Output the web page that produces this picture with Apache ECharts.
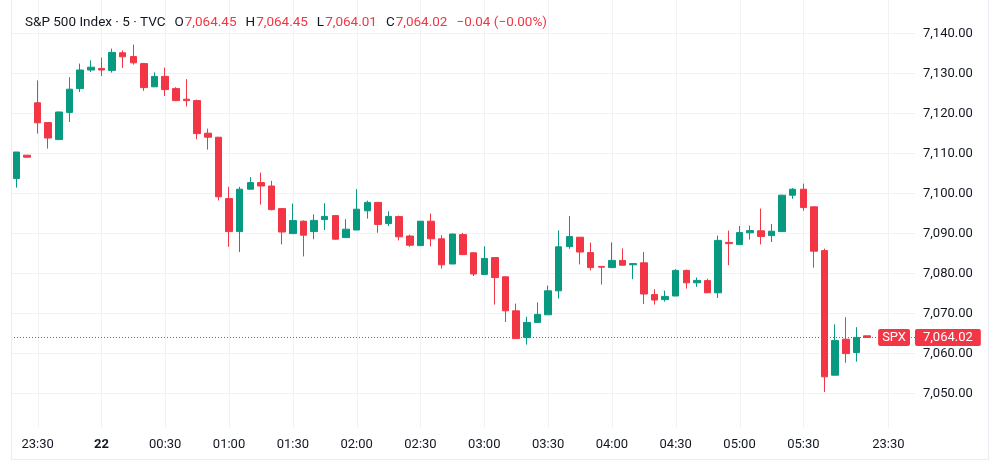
<!DOCTYPE html>
<html>
<head>
<meta charset="utf-8">
<script src="https://cdn.jsdelivr.net/npm/echarts@6/dist/echarts.min.js"></script>
<style>
  html, body { margin: 0; height: 100%; background: #fff; }
  #container { position: absolute; left: 0; top: 0; width: 1000px; height: 464px; }
  #frame { position: absolute; left: 11px; top: -1px; width: 976px; height: 459px; border: 1px solid #e9ecf2; pointer-events: none; }
</style>
</head>
<body>
<div id="container"></div>
<div id="frame"></div>
<script type="text/javascript">
  // 5 minute bars, last 4 slots are empty future space
  var times = [
    '23:20', '23:25', '23:30', '23:35', '23:40', '23:45', '23:50', '23:55',
    '00:00', '00:05', '00:10', '00:15', '00:20', '00:25', '00:30', '00:35', '00:40', '00:45', '00:50', '00:55',
    '01:00', '01:05', '01:10', '01:15', '01:20', '01:25', '01:30', '01:35', '01:40', '01:45', '01:50', '01:55',
    '02:00', '02:05', '02:10', '02:15', '02:20', '02:25', '02:30', '02:35', '02:40', '02:45', '02:50', '02:55',
    '03:00', '03:05', '03:10', '03:15', '03:20', '03:25', '03:30', '03:35', '03:40', '03:45', '03:50', '03:55',
    '04:00', '04:05', '04:10', '04:15', '04:20', '04:25', '04:30', '04:35', '04:40', '04:45', '04:50', '04:55',
    '05:00', '05:05', '05:10', '05:15', '05:20', '05:25', '05:30', '05:35', '05:40', '05:45', '05:50', '05:55',
    '06:00', '23:25', '23:30', '23:35', '23:40'
  ];
  // labelled slots on the time axis and their text
  var tickIdx = [2, 8, 14, 20, 26, 32, 38, 44, 50, 56, 62, 68, 74, 82];
  var tickLabels = ['23:30', '22', '00:30', '01:00', '01:30', '02:00', '02:30', '03:00',
    '03:30', '04:00', '04:30', '05:00', '05:30', '23:30'];
  var boldTicks = ['22'];

  var opens = [
    7103.75, 7109.6, 7122.7, 7117.75, 7113.5, 7120.3, 7126.25, 7130.9,
    7131.3, 7130.8, 7135.2, 7134.25, 7132.5, 7126.7, 7129.3, 7126.25, 7123.6, 7123.25, 7115.1, 7114.1,
    7098.75, 7090.5, 7101.1, 7102.75, 7101.9, 7096.25, 7090.0, 7093.1, 7090.5, 7093.5, 7094.5, 7089.0,
    7090.9, 7095.7, 7097.8, 7092.5, 7094.25, 7089.4, 7087.0, 7093.1, 7088.7, 7082.4, 7089.75, 7085.2,
    7079.8, 7084.0, 7079.2, 7070.7, 7064.0, 7067.8, 7069.7, 7075.7, 7086.75, 7089.1, 7085.25, 7081.8,
    7081.5, 7083.3, 7082.2, 7082.7, 7074.75, 7073.5, 7074.4, 7080.8, 7077.7, 7078.25, 7075.2, 7087.8,
    7087.25, 7090.2, 7090.7, 7089.5, 7090.5, 7099.6, 7101.1, 7096.7, 7085.75, 7054.6, 7063.6, 7060.25,
    7064.45
  ];
  var closes = [
    7110.4, 7109.1, 7117.7, 7113.9, 7120.4, 7126.1, 7130.9, 7131.6,
    7130.9, 7135.3, 7134.2, 7132.7, 7126.5, 7129.3, 7126.0, 7123.25, 7123.25, 7115.0, 7114.1, 7099.2,
    7090.5, 7101.1, 7102.75, 7101.9, 7096.0, 7090.4, 7093.25, 7089.6, 7093.3, 7094.3, 7088.6, 7091.1,
    7096.1, 7097.8, 7092.3, 7094.3, 7089.2, 7087.1, 7093.1, 7088.7, 7082.2, 7089.9, 7084.75, 7079.9,
    7083.8, 7079.0, 7070.7, 7063.75, 7067.8, 7069.8, 7075.7, 7086.7, 7089.25, 7085.4, 7081.5, 7081.6,
    7083.3, 7082.1, 7082.5, 7074.9, 7073.4, 7074.3, 7080.8, 7077.7, 7078.3, 7075.2, 7088.3, 7087.5,
    7090.25, 7090.75, 7089.3, 7090.6, 7099.6, 7101.1, 7096.5, 7085.6, 7054.2, 7063.3, 7060.0, 7064.06,
    7064.02
  ];
  var lows = [
    7101.5, 7109.0, 7115.0, 7111.25, 7113.5, 7117.9, 7125.4, 7130.4,
    7129.4, 7130.25, 7131.4, 7132.25, 7125.7, 7126.7, 7124.4, 7123.1, 7121.8, 7113.6, 7111.0, 7098.3,
    7086.7, 7085.4, 7101.1, 7097.25, 7095.8, 7087.3, 7090.0, 7084.3, 7088.6, 7090.9, 7088.5, 7089.0,
    7090.9, 7093.75, 7090.2, 7091.9, 7088.3, 7086.7, 7087.0, 7086.8, 7081.25, 7082.4, 7084.75, 7079.4,
    7079.8, 7072.25, 7067.9, 7063.7, 7062.25, 7067.8, 7069.7, 7073.75, 7086.2, 7082.3, 7080.8, 7077.25,
    7081.5, 7082.0, 7078.6, 7072.4, 7072.25, 7073.0, 7074.4, 7076.25, 7076.7, 7075.2, 7073.9, 7082.1,
    7087.25, 7088.5, 7087.3, 7087.9, 7090.5, 7098.7, 7095.7, 7081.5, 7050.4, 7054.6, 7057.7, 7058.0,
    7064.01
  ];
  var highs = [
    7110.4, 7109.6, 7128.3, 7117.75, 7120.5, 7129.1, 7132.5, 7133.3,
    7134.0, 7136.25, 7135.8, 7137.25, 7132.7, 7130.3, 7131.5, 7126.6, 7128.6, 7123.5, 7116.25, 7114.1,
    7101.7, 7101.7, 7104.1, 7105.25, 7103.2, 7096.25, 7097.5, 7093.3, 7094.8, 7097.6, 7094.5, 7093.6,
    7101.1, 7098.25, 7097.9, 7095.6, 7094.5, 7089.75, 7093.1, 7095.0, 7089.6, 7090.0, 7090.2, 7085.3,
    7086.8, 7084.0, 7079.2, 7072.5, 7069.2, 7072.8, 7077.0, 7090.8, 7094.4, 7089.1, 7087.75, 7081.8,
    7087.8, 7086.3, 7082.5, 7085.4, 7076.1, 7075.75, 7081.1, 7081.0, 7079.0, 7078.7, 7089.5, 7090.75,
    7091.9, 7092.0, 7096.25, 7092.4, 7099.7, 7101.4, 7102.5, 7096.7, 7086.25, 7067.3, 7069.1, 7066.6,
    7064.45
  ];

  var up = '#089981', down = '#f23645', textColor = '#131722', gridColor = '#f0f2f5';

  // echarts candlestick order: [open, close, low, high]
  var candles = times.map(function (t, i) {
    return i < opens.length ? [opens[i], closes[i], lows[i], highs[i]] : '-';
  });
  var n = opens.length - 1;
  var last = closes[n];
  var change = last - closes[n - 1];

  function fmt(v) {
    return v.toLocaleString('en-US', { minimumFractionDigits: 2, maximumFractionDigits: 2 });
  }
  function signed(v) {
    return (v < 0 ? '\u2212' : '+') + Math.abs(v).toFixed(2);
  }

  var myChart = echarts.init(document.getElementById('container'));
  var font = 'Roboto';
  var hs = 13.5; // header font size

  var priceLabel = {
    color: '#fff',
    fontSize: 13,
    fontFamily: font,
    backgroundColor: down,
    borderRadius: 2
  };

  var option = {
    animation: false,
    textStyle: { fontFamily: font },
    title: {
      left: 20,
      top: 11,
      text: '{d|S&P 500 Index \u00b7 5 \u00b7 TVC}{g|O}{r|' + fmt(opens[n]) + '}' +
        '{g|H}{r|' + fmt(highs[n]) + '}' +
        '{g|L}{r|' + fmt(lows[n]) + '}' +
        '{g|C}{r|' + fmt(last) + '}' +
        '{s|' + signed(change) + ' (' + signed(change / last * 100) + '%)}',
      textStyle: {
        fontWeight: 'normal',
        rich: {
          d: { color: textColor, fontSize: hs, fontFamily: font, fontWeight: 'normal' },
          g: { color: textColor, fontSize: hs, fontFamily: font, fontWeight: 'normal', padding: [0, 1, 0, 9] },
          r: { color: down, fontSize: hs, fontFamily: font, fontWeight: 'normal' },
          s: { color: down, fontSize: hs, fontFamily: font, fontWeight: 'normal', padding: [0, 0, 0, 9] }
        }
      }
    },
    grid: { left: 11, right: 85, top: 0, bottom: 30.4 },
    xAxis: {
      type: 'category',
      data: times,
      boundaryGap: true,
      axisLine: { show: false },
      axisTick: { show: false },
      splitLine: { show: false },
      axisLabel: {
        margin: 5,
        color: textColor,
        fontSize: 13,
        hideOverlap: false,
        interval: function (i) { return tickIdx.indexOf(i) >= 0; },
        formatter: function (v, i) {
          var t = tickLabels[tickIdx.indexOf(i)];
          return boldTicks.indexOf(t) >= 0 ? '{b|' + t + '}' : t;
        },
        rich: { b: { fontWeight: 'bold', fontSize: 13, color: textColor, fontFamily: font } }
      }
    },
    yAxis: {
      type: 'value',
      position: 'right',
      min: 7040,
      max: 7148.4,
      interval: 10,
      axisLine: { show: false },
      axisTick: { show: false },
      axisLabel: {
        margin: 8,
        color: textColor,
        fontSize: 13,
        showMinLabel: false,
        showMaxLabel: false,
        formatter: fmt
      },
      splitLine: { lineStyle: { color: gridColor }, showMinLine: false, showMaxLine: false }
    },
    series: [
      {
        // vertical grid lines at the labelled times
        type: 'custom',
        silent: true,
        z: 1,
        data: tickIdx.map(function (i) { return [i]; }),
        encode: { x: 0 },
        renderItem: function (params, api) {
          var x = Math.round(api.coord([api.value(0), 7100])[0]) + 0.5;
          var cs = params.coordSys;
          return {
            type: 'line',
            shape: { x1: x, y1: cs.y, x2: x, y2: cs.y + cs.height - 6 },
            style: { stroke: gridColor, lineWidth: 1 }
          };
        }
      },
      {
        // dotted last price line
        type: 'custom',
        silent: true,
        z: 2,
        data: [[0, last]],
        encode: { x: 0, y: 1 },
        renderItem: function (params, api) {
          var y = Math.round(api.coord([0, api.value(1)])[1] - 0.5) + 0.5;
          var cs = params.coordSys;
          return {
            type: 'line',
            shape: { x1: cs.x, y1: y, x2: cs.x + cs.width, y2: y },
            style: { stroke: down, lineWidth: 1, lineDash: [1, 2] }
          };
        }
      },
      {
        type: 'candlestick',
        z: 3,
        barWidth: 7,
        data: candles,
        itemStyle: {
          color: up,
          color0: down,
          borderColor: up,
          borderColor0: down,
          borderWidth: 1
        },
        markLine: {
          silent: true,
          symbol: ['none', 'none'],
          lineStyle: { color: 'rgba(0,0,0,0)', width: 1 },
          data: [
            {
              yAxis: last,
              label: Object.assign({ position: 'end', distance: 0, formatter: fmt(last), padding: [2, 8] }, priceLabel)
            },
            {
              yAxis: last,
              label: Object.assign({ position: 'insideEnd', distance: 5, formatter: 'SPX', padding: [2, 4] }, priceLabel)
            }
          ]
        }
      }
    ]
  };

  myChart.setOption(option);
</script>
</body>
</html>
